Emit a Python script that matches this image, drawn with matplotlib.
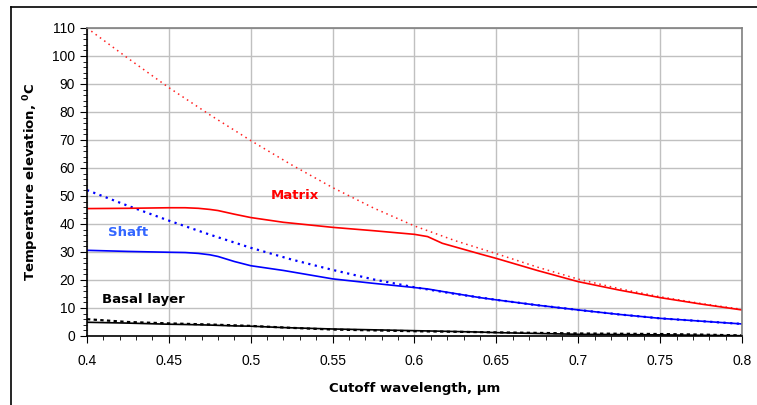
import matplotlib
matplotlib.use("Agg")
import matplotlib.pyplot as plt
from matplotlib.lines import Line2D
from matplotlib.ticker import MultipleLocator

plt.rcParams["font.family"] = ["Liberation Sans", "DejaVu Sans"]
plt.rcParams["mathtext.fontset"] = "dejavusans"

# wavelength grid for the solid curves (um)
wl = [0.40, 0.425, 0.45, 0.46, 0.468, 0.475, 0.48, 0.49, 0.50, 0.52, 0.55, 0.575, 0.60,
      0.608, 0.617, 0.64, 0.65, 0.675, 0.70, 0.725, 0.75, 0.775, 0.80]
matrix_solid = [45.5, 45.6, 45.8, 45.8, 45.6, 45.2, 44.8, 43.5, 42.3, 40.6, 38.8, 37.6, 36.3,
                35.5, 33.1, 29.3, 27.7, 23.4, 19.4, 16.4, 13.7, 11.4, 9.3]
shaft_solid = [30.6, 30.2, 29.9, 29.8, 29.5, 29.0, 28.4, 26.6, 25.1, 23.4, 20.4, 18.8, 17.3,
               16.8, 15.9, 13.7, 12.9, 11.0, 9.3, 7.7, 6.3, 5.3, 4.3]
basal_solid = [4.9, 4.6, 4.2, 4.1, 4.0, 3.9, 3.8, 3.6, 3.5, 3.0, 2.5, 2.2, 1.9,
               1.8, 1.7, 1.4, 1.2, 0.9, 0.6, 0.5, 0.4, 0.25, 0.1]

# wavelength grid for the dotted curves (um)
wl_dot = [0.40, 0.425, 0.45, 0.475, 0.50, 0.525, 0.55, 0.575, 0.60, 0.625,
          0.65, 0.675, 0.70, 0.725, 0.75, 0.775, 0.80]
matrix_dot = [110.0, 99.2, 88.7, 79.0, 69.8, 61.1, 53.0, 45.7, 39.3, 34.0,
              29.4, 24.6, 20.3, 16.9, 14.0, 11.6, 9.5]
shaft_dot = [52.1, 46.5, 41.2, 36.2, 31.5, 27.3, 23.6, 20.2, 17.4, 15.0,
             12.9, 11.0, 9.3, 7.7, 6.3, 5.3, 4.3]
basal_dot = [6.0, 5.0, 4.5, 4.1, 3.6, 2.9, 2.3, 2.0, 1.7, 1.5,
             1.3, 1.1, 0.9, 0.8, 0.7, 0.5, 0.2]

x_ticks = [0.4, 0.45, 0.5, 0.55, 0.6, 0.65, 0.7, 0.75, 0.8]
x_ticklabels = ["0.4", "0.45", "0.5", "0.55", "0.6", "0.65", "0.7", "0.75", "0.8"]


def draw():
    fig = plt.figure(figsize=(7.57, 4.05), dpi=100)
    ax = fig.add_axes([0.1149, 0.1704, 0.8653, 0.7605])

    ax.plot(wl_dot, matrix_dot, color="#ff2020", linestyle=(0, (1, 2.5)), lw=1.1)
    ax.plot(wl_dot, shaft_dot, color="#0000ff", linestyle=(0, (1, 2)), lw=1.6)
    ax.plot(wl_dot, basal_dot, color="black", linestyle=(0, (1.5, 1.5)), lw=1.6)
    ax.plot(wl, matrix_solid, color="#ff0000", lw=1.2)
    ax.plot(wl, shaft_solid, color="#0000ff", lw=1.2)
    ax.plot(wl, basal_solid, color="black", lw=1.2)

    bold = dict(family="DejaVu Sans", fontsize=9.5, fontweight="bold", va="center")
    ax.text(0.527, 50, "Matrix", color="#ff0000", ha="center", **bold)
    ax.text(0.413, 37, "Shaft", color="#3366ff", ha="left", **bold)
    ax.text(0.409, 13.2, "Basal layer", color="black", ha="left", **bold)

    ax.set_xticks(x_ticks)
    ax.set_xticklabels(x_ticklabels)
    ax.xaxis.set_minor_locator(MultipleLocator(0.01))
    ax.yaxis.set_major_locator(MultipleLocator(10))
    ax.yaxis.set_minor_locator(MultipleLocator(2))
    ax.set_xlim(0.4, 0.8)
    ax.set_ylim(0, 110)

    ax.grid(True, which="major", color="#c0c0c0", lw=1)
    ax.set_axisbelow(True)
    ax.tick_params(which="major", direction="out", length=5, labelsize=10, color="black")
    ax.tick_params(which="minor", direction="out", length=3, color="black")
    ax.tick_params(axis="x", pad=8)

    for s in ["top", "right"]:
        ax.spines[s].set_color("#808080")
        ax.spines[s].set_linewidth(1.2)
    for s in ["left", "bottom"]:
        ax.spines[s].set_color("black")
        ax.spines[s].set_linewidth(1.2)

    ax.set_xlabel("Cutoff wavelength, \u00b5m", family="DejaVu Sans", fontsize=9.5,
                  fontweight="bold", labelpad=10)
    ax.set_ylabel(r"Temperature elevation, $^{\mathbf{0}}$C", family="DejaVu Sans",
                  fontsize=9.5, fontweight="bold", labelpad=8)

    # outer chart frame
    fig.add_artist(Line2D([11 / 757, 1], [1 - 7 / 405, 1 - 7 / 405],
                          transform=fig.transFigure, color="black", lw=1.2))
    fig.add_artist(Line2D([11 / 757, 11 / 757], [0, 1 - 7 / 405],
                          transform=fig.transFigure, color="black", lw=1.2))

    fig.savefig("out.png", dpi=100)


def main():
    draw()


if __name__ == "__main__":
    main()
